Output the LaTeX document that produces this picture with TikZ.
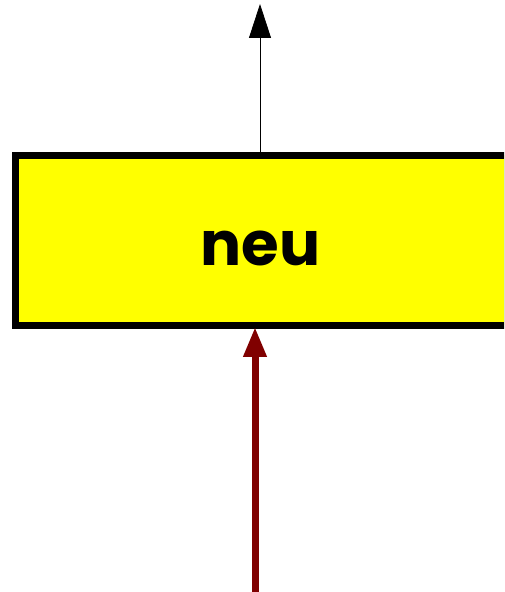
\documentclass[tikz,border=0pt]{standalone}
\usepackage{fontspec}
\setmainfont{Poppins}
\usetikzlibrary{arrows.meta}
\definecolor{boxyellow}{RGB}{255,255,0}
\definecolor{darkred}{RGB}{128,0,0}
\tikzset{
  mainbox/.style={draw=black, fill=boxyellow, line width=7pt, minimum width=491.5pt, minimum height=170pt, inner sep=0pt},
  lbltext/.style={font=\fontsize{61}{61}\selectfont\bfseries, inner sep=0pt, anchor=base},
  outarrow/.style={draw=black, line width=0.8pt, -{Triangle[length=34pt,width=22pt]}},
  inarrow/.style={draw=darkred, line width=7pt, -{Triangle[length=30pt,width=22pt]}}
}
\begin{document}
\begin{tikzpicture}[x=1pt,y=1pt]
\useasboundingbox (0,0) rectangle (504,592);
\clip (0,0) rectangle (504,592);
\node[mainbox] (box) at (261.25,351.5) {};
\node[lbltext] (lbl) at (260.5,326) {neu};
\coordinate (top) at (260,588);
\coordinate (bot) at (255,0);
\draw[outarrow] (box.north -| top) -- (top);
\draw[inarrow] (bot) -- ([yshift=2pt]box.south -| bot);
\end{tikzpicture}
\end{document}
